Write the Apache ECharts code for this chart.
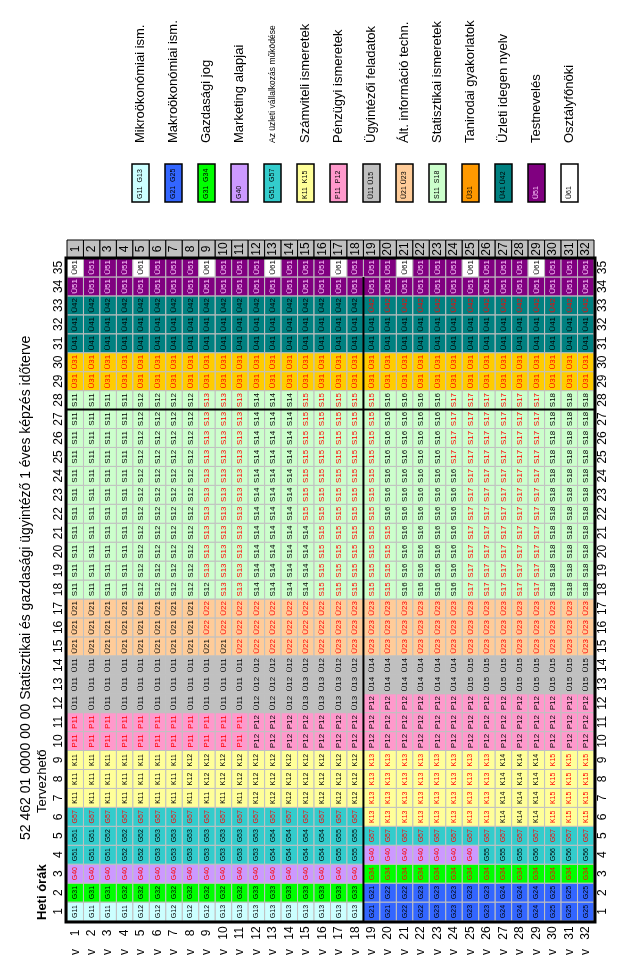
<!DOCTYPE html>
<html><head><meta charset="utf-8">
<script src="https://cdn.jsdelivr.net/npm/echarts@6/dist/echarts.min.js"></script>
<style>html,body{margin:0;padding:0;background:#fff}#c{width:621px;height:968px}</style>
</head><body><div id="c"></div>
<script>
const weeks = ['1','2','3','4','5','6','7','8','9','10','11','12','13','14','15','16','17','18','19','20','21','22','23','24','25','26','27','28','29','30','31','32'];
const hours = ['1','2','3','4','5','6','7','8','9','10','11','12','13','14','15','16','17','18','19','20','21','22','23','24','25','26','27','28','29','30','31','32','33','34','35'];
const weekMark = ['v','v','v','v','v','v','v','v','v','v','v','v','v','v','v','v','v','v','v','v','v','v','v','v','v','v','v','v','v','v','v','v'];

const legendCodes = ['G11  G13','G21  G25','G31  G34','G40','G51  G57','K11  K15','P11  P12','Ü11 Ü15','Ü21 Ü23','S11  S18','Ü31','Ü41 Ü42','Ü51','Ü61'];
const legendNames = ['Mikroökonómiai ism.','Makroökonómiai ism.','Gazdasági jog','Marketing alapjai','Az üzleti vállalkozás működése','Számviteli ismeretek','Pénzügyi ismeretek','Ügyintézői feladatok','Ált. információ techn.','Statisztikai ismeretek','Tanirodai gyakorlatok','Üzleti idegen nyelv','Testnevelés','Osztályfőnöki'];

// timetable: one array per weekly hour (1 = bottom), 32 weeks each
const hour01 = 'G11 G11 G11 G11 G12 G12 G12 G12 G12 G13 G13 G13 G13 G13 G13 G13 G13 G13 G21 G21 G22 G22 G23 G23 G23 G23 G24 G24 G24 G25 G25 G25'.split(' ');
const hour02 = 'G31 G31 G31 G32 G32 G32 G32 G32 G32 G32 G32 G33 G33 G33 G33 G33 G33 G33 G21 G22 G22 G23 G23 G23 G23 G23 G24 G24 G24 G25 G25 G25'.split(' ');
const hour03 = 'G40 G40 G40 G40 G40 G40 G40 G40 G40 G40 G40 G40 G40 G40 G40 G40 G40 G40 G34 G34 G34 G34 G34 G34 G34 G34 G34 G34 G34 G34 G34 G34'.split(' ');
const hour04 = 'G51 G51 G51 G52 G52 G53 G53 G53 G53 G53 G53 G53 G54 G54 G54 G54 G55 G55 G40 G40 G40 G40 G40 G40 G40 G55 G55 G55 G56 G56 G56 G56'.split(' ');
const hour05 = 'G51 G51 G52 G52 G52 G53 G53 G53 G53 G53 G53 G53 G54 G54 G54 G54 G55 G55 G57 G57 G57 G57 G57 G57 G57 G57 G57 G57 G57 G57 G57 G57'.split(' ');
const hour06 = 'G57 G57 G57 G57 G57 G57 G57 G57 G57 G57 G57 G57 G57 G57 G57 G57 G57 G57 K13 K13 K13 K13 K13 K13 K13 K13 K14 K14 K14 K15 K15 K15'.split(' ');
const hour07 = 'K11 K11 K11 K11 K11 K11 K11 K11 K11 K11 K11 K12 K12 K12 K12 K12 K12 K12 K13 K13 K13 K13 K13 K13 K13 K13 K14 K14 K14 K15 K15 K15'.split(' ');
const hour08 = 'K11 K11 K11 K11 K11 K11 K11 K12 K12 K12 K12 K12 K12 K12 K12 K12 K12 K12 K13 K13 K13 K13 K13 K13 K13 K13 K14 K14 K14 K15 K15 K15'.split(' ');
const hour09 = 'K11 K11 K11 K11 K11 K11 K11 K12 K12 K12 K12 K12 K12 K12 K12 K12 K12 K12 K13 K13 K13 K13 K13 K13 K13 K13 K14 K14 K14 K15 K15 K15'.split(' ');
const hour10 = 'P11 P11 P11 P11 P11 P11 P11 P11 P11 P11 P11 P12 P12 P12 P12 P12 P12 P12 P12 P12 P12 P12 P12 P12 P12 P12 P12 P12 P12 P12 P12 P12'.split(' ');
const hour11 = 'P11 P11 P11 P11 P11 P11 P11 P11 P11 P11 P11 P12 P12 P12 P12 P12 P12 P12 P12 P12 P12 P12 P12 P12 P12 P12 P12 P12 P12 P12 P12 P12'.split(' ');
const hour12 = 'Ü11 Ü11 Ü11 Ü11 Ü11 Ü11 Ü11 Ü11 Ü11 Ü11 Ü11 Ü12 Ü12 Ü12 Ü13 Ü13 Ü13 Ü13 P12 P12 P12 P12 P12 P12 P12 P12 P12 P12 P12 P12 P12 P12'.split(' ');
const hour13 = 'Ü11 Ü11 Ü11 Ü11 Ü11 Ü11 Ü11 Ü11 Ü11 Ü11 Ü11 Ü12 Ü12 Ü12 Ü13 Ü13 Ü13 Ü13 Ü14 Ü14 Ü14 Ü14 Ü14 Ü14 Ü15 Ü15 Ü15 Ü15 Ü15 Ü15 Ü15 Ü15'.split(' ');
const hour14 = 'Ü11 Ü11 Ü11 Ü11 Ü11 Ü11 Ü11 Ü11 Ü11 Ü11 Ü11 Ü12 Ü12 Ü12 Ü12 Ü12 Ü12 Ü12 Ü14 Ü14 Ü14 Ü14 Ü14 Ü14 Ü15 Ü15 Ü15 Ü15 Ü15 Ü15 Ü15 Ü15'.split(' ');
const hour15 = 'Ü21 Ü21 Ü21 Ü21 Ü21 Ü21 Ü21 Ü21 Ü21 Ü21 Ü22 Ü22 Ü22 Ü22 Ü22 Ü22 Ü23 Ü23 Ü23 Ü23 Ü23 Ü23 Ü23 Ü23 Ü23 Ü23 Ü23 Ü23 Ü23 Ü23 Ü23 Ü23'.split(' ');
const hour16 = 'Ü21 Ü21 Ü21 Ü21 Ü21 Ü21 Ü21 Ü21 Ü22 Ü22 Ü22 Ü22 Ü22 Ü22 Ü22 Ü22 Ü23 Ü23 Ü23 Ü23 Ü23 Ü23 Ü23 Ü23 Ü23 Ü23 Ü23 Ü23 Ü23 Ü23 Ü23 Ü23'.split(' ');
const hour17 = 'Ü21 Ü21 Ü21 Ü21 Ü21 Ü21 Ü21 Ü21 Ü22 Ü22 Ü22 Ü22 Ü22 Ü22 Ü22 Ü22 Ü22 Ü23 Ü23 Ü23 Ü23 Ü23 Ü23 Ü23 Ü23 Ü23 Ü23 Ü23 Ü23 Ü23 Ü23 Ü23'.split(' ');
const hour18 = 'S11 S11 S11 S11 S12 S12 S12 S12 S12 S13 S13 S14 S14 S14 S14 S15 S15 S15 S15 S15 S16 S16 S16 S16 S17 S17 S17 S17 S17 S18 S18 S18'.split(' ');
const hour19 = 'S11 S11 S11 S11 S12 S12 S12 S12 S13 S13 S13 S14 S14 S14 S14 S15 S15 S15 S15 S15 S16 S16 S16 S16 S17 S17 S17 S17 S17 S18 S18 S18'.split(' ');
const hour20 = 'S11 S11 S11 S11 S12 S12 S12 S12 S13 S13 S13 S14 S14 S14 S14 S15 S15 S15 S15 S15 S16 S16 S16 S16 S17 S17 S17 S17 S17 S18 S18 S18'.split(' ');
const hour21 = 'S11 S11 S11 S11 S12 S12 S12 S12 S13 S13 S13 S14 S14 S14 S14 S15 S15 S15 S15 S15 S16 S16 S16 S16 S17 S17 S17 S17 S17 S18 S18 S18'.split(' ');
const hour22 = 'S11 S11 S11 S11 S12 S12 S12 S12 S13 S13 S13 S14 S14 S14 S15 S15 S15 S15 S15 S16 S16 S16 S16 S16 S17 S17 S17 S17 S17 S18 S18 S18'.split(' ');
const hour23 = 'S11 S11 S11 S11 S12 S12 S12 S12 S13 S13 S13 S14 S14 S14 S15 S15 S15 S15 S15 S16 S16 S16 S16 S16 S17 S17 S17 S17 S17 S18 S18 S18'.split(' ');
const hour24 = 'S11 S11 S11 S11 S12 S12 S12 S12 S13 S13 S13 S14 S14 S14 S15 S15 S15 S15 S15 S16 S16 S16 S16 S16 S17 S17 S17 S17 S17 S18 S18 S18'.split(' ');
const hour25 = 'S11 S11 S11 S11 S12 S12 S12 S12 S13 S13 S13 S14 S14 S14 S15 S15 S15 S15 S15 S16 S16 S16 S16 S17 S17 S17 S17 S17 S17 S18 S18 S18'.split(' ');
const hour26 = 'S11 S11 S11 S11 S12 S12 S12 S12 S13 S13 S13 S14 S14 S14 S15 S15 S15 S15 S15 S16 S16 S16 S16 S17 S17 S17 S17 S17 S17 S18 S18 S18'.split(' ');
const hour27 = 'S11 S11 S11 S11 S12 S12 S12 S12 S13 S13 S13 S14 S14 S14 S15 S15 S15 S15 S15 S16 S16 S16 S16 S17 S17 S17 S17 S17 S17 S18 S18 S18'.split(' ');
const hour28 = 'S11 S11 S11 S11 S12 S12 S12 S12 S13 S13 S13 S14 S14 S14 S15 S15 S15 S15 S15 S16 S16 S16 S16 S17 S17 S17 S17 S17 S17 S18 S18 S18'.split(' ');
const hour29 = 'Ü31 Ü31 Ü31 Ü31 Ü31 Ü31 Ü31 Ü31 Ü31 Ü31 Ü31 Ü31 Ü31 Ü31 Ü31 Ü31 Ü31 Ü31 Ü31 Ü31 Ü31 Ü31 Ü31 Ü31 Ü31 Ü31 Ü31 Ü31 Ü31 Ü31 Ü31 Ü31'.split(' ');
const hour30 = 'Ü31 Ü31 Ü31 Ü31 Ü31 Ü31 Ü31 Ü31 Ü31 Ü31 Ü31 Ü31 Ü31 Ü31 Ü31 Ü31 Ü31 Ü31 Ü31 Ü31 Ü31 Ü31 Ü31 Ü31 Ü31 Ü31 Ü31 Ü31 Ü31 Ü31 Ü31 Ü31'.split(' ');
const hour31 = 'Ü41 Ü41 Ü41 Ü41 Ü41 Ü41 Ü41 Ü41 Ü41 Ü41 Ü41 Ü41 Ü41 Ü41 Ü41 Ü41 Ü41 Ü41 Ü41 Ü41 Ü41 Ü41 Ü41 Ü41 Ü41 Ü41 Ü41 Ü41 Ü41 Ü41 Ü41 Ü41'.split(' ');
const hour32 = 'Ü41 Ü41 Ü41 Ü41 Ü41 Ü41 Ü41 Ü41 Ü41 Ü41 Ü41 Ü41 Ü41 Ü41 Ü41 Ü41 Ü41 Ü41 Ü41 Ü41 Ü41 Ü41 Ü41 Ü41 Ü41 Ü41 Ü41 Ü41 Ü41 Ü41 Ü41 Ü41'.split(' ');
const hour33 = 'Ü42 Ü42 Ü42 Ü42 Ü42 Ü42 Ü42 Ü42 Ü42 Ü42 Ü42 Ü42 Ü42 Ü42 Ü42 Ü42 Ü42 Ü42 Ü42 Ü42 Ü42 Ü42 Ü42 Ü42 Ü42 Ü42 Ü42 Ü42 Ü42 Ü42 Ü42 Ü42'.split(' ');
const hour34 = 'Ü51 Ü51 Ü51 Ü51 Ü51 Ü51 Ü51 Ü51 Ü51 Ü51 Ü51 Ü51 Ü51 Ü51 Ü51 Ü51 Ü51 Ü51 Ü51 Ü51 Ü51 Ü51 Ü51 Ü51 Ü51 Ü51 Ü51 Ü51 Ü51 Ü51 Ü51 Ü51'.split(' ');
const hour35 = 'Ü61 Ü51 Ü51 Ü51 Ü61 Ü51 Ü51 Ü51 Ü61 Ü51 Ü51 Ü51 Ü61 Ü51 Ü51 Ü51 Ü61 Ü51 Ü51 Ü51 Ü61 Ü51 Ü51 Ü51 Ü61 Ü51 Ü51 Ü51 Ü61 Ü51 Ü51 Ü51'.split(' ');

const splitAfterWeek = '18';
const splitAfterHour = '27';
const titleText = '52 462 01 0000 00 00 Statisztikai és gazdasági ügyintéző 1 éves képzés időterve';

const schedule = [hour01,hour02,hour03,hour04,hour05,hour06,hour07,hour08,hour09,hour10,hour11,hour12,hour13,hour14,hour15,hour16,hour17,hour18,hour19,hour20,hour21,hour22,hour23,hour24,hour25,hour26,hour27,hour28,hour29,hour30,hour31,hour32,hour33,hour34,hour35];

const FONT = '"Liberation Sans", Arial, sans-serif';
const fillMap = {G1:'#ccffff',G2:'#3366ff',G3:'#00ff00',G4:'#cc99ff',G5:'#33cccc',K1:'#ffff99',P1:'#ff99cc','Ü1':'#c0c0c0','Ü2':'#ffcc99',S1:'#ccffcc','Ü3':'#ffcc00','Ü4':'#008080','Ü5':'#800080','Ü6':'#ffffff'};
const legendFill = {G1:'#ccffff',G2:'#3366ff',G3:'#00ff00',G4:'#cc99ff',G5:'#33cccc',K1:'#ffff99',P1:'#ff99cc','Ü1':'#c0c0c0','Ü2':'#ffcc99',S1:'#ccffcc','Ü3':'#ff9900','Ü4':'#008080','Ü5':'#800080','Ü6':'#ffffff'};
const redCodes = new Set(['G40','G57','G34','K13','K15','P11','Ü22','Ü23','Ü31','S13','S15','S17']);
function fillOf(code){ return fillMap[code.slice(0,2)] || '#fff'; }
function textOf(code, week){
  if (code === 'Ü51') return '#ffccff';
  if (redCodes.has(code)) return '#ff0000';
  if (code === 'Ü42' && week > +splitAfterWeek) return '#ff0000';
  return '#000';
}

const cellData = [], cellCodes = [];
schedule.forEach((row, h) => row.forEach((code, w) => { cellData.push([w, h]); cellCodes.push(code); }));

const chart = echarts.init(document.getElementById('c'), null, {renderer:'canvas'});
const hidden = {show:false};
chart.setOption({
  animation:false,
  backgroundColor:'#fff',
  grid:[
    {left:67, right:27, top:258, bottom:47},
    {left:67, right:27, top:240, height:18},
    {left:124, width:462, top:164, height:38}
  ],
  xAxis:[
    {gridIndex:0, type:'category', data:weeks, position:'bottom', axisLine:hidden, axisTick:hidden, splitLine:hidden,
     axisLabel:{rotate:90, align:'center', verticalAlign:'middle', margin:12, fontSize:12, color:'#000', fontFamily:FONT, interval:0}},
    {gridIndex:0, type:'category', data:weekMark, position:'bottom', axisLine:hidden, axisTick:hidden, splitLine:hidden,
     axisLabel:{rotate:90, align:'center', verticalAlign:'middle', margin:31, fontSize:12, color:'#000', fontFamily:FONT, interval:0}},
    {gridIndex:1, type:'category', data:weeks, show:false},
    {gridIndex:2, type:'category', data:legendCodes, show:false}
  ],
  yAxis:[
    {gridIndex:0, type:'category', data:hours, position:'left', axisLine:hidden, axisTick:hidden, splitLine:hidden,
     axisLabel:{rotate:90, align:'center', verticalAlign:'middle', margin:8, fontSize:12, color:'#000', fontFamily:FONT, interval:0}},
    {gridIndex:0, type:'category', data:hours, position:'right', axisLine:hidden, axisTick:hidden, splitLine:hidden,
     axisLabel:{rotate:90, align:'center', verticalAlign:'middle', margin:9, fontSize:12, color:'#000', fontFamily:FONT, interval:0}},
    {gridIndex:1, type:'category', data:['hét'], show:false},
    {gridIndex:2, type:'category', data:['jel'], show:false}
  ],
  graphic:[
    {type:'text', x:26, y:840, rotation:Math.PI/2, style:{text:titleText, font:'14px '+FONT, fill:'#000', align:'left', verticalAlign:'middle'}},
    {type:'text', x:42, y:920, rotation:Math.PI/2, style:{text:'Heti órák', font:'bold 13px '+FONT, fill:'#000', align:'left', verticalAlign:'middle'}},
    {type:'text', x:42, y:813, rotation:Math.PI/2, style:{text:'Tervezhető', font:'13px '+FONT, fill:'#000', align:'left', verticalAlign:'middle'}}
  ],
  series:[
    {type:'custom', xAxisIndex:0, yAxisIndex:0, data:cellData, clip:false, z:2,
     renderItem(params, api){
       const w = api.value(0), h = api.value(1);
       const code = cellCodes[params.dataIndex];
       const c = api.coord([w, h]); const s = api.size([1, 1]);
       const small = code[0] === 'G' || code[0] === 'K';
       return {type:'group', children:[
         {type:'rect', shape:{x:c[0]-s[0]/2, y:c[1]-s[1]/2, width:s[0], height:s[1]},
          style:{fill:fillOf(code), stroke:'#c0c0c0', lineWidth:1}},
         {type:'text', x:c[0], y:c[1], rotation:Math.PI/2,
          style:{text:code, fill:textOf(code, w+1), font:(small?'7px ':'8px ')+FONT, align:'center', verticalAlign:'middle'}}
       ]};
     }},
    {type:'custom', xAxisIndex:0, yAxisIndex:0, data:[[0,0]], clip:false, z:5, silent:true,
     renderItem(params, api){
       const s = api.size([1,1]);
       const p0 = api.coord([0, 0]);
       const p1 = api.coord([weeks.length-1, hours.length-1]);
       const left = p0[0]-s[0]/2, right = p1[0]+s[0]/2, bottom = p0[1]+s[1]/2, top = p1[1]-s[1]/2;
       const hy = api.coord([0, hours.indexOf(splitAfterHour)])[1] - s[1]/2;
       const vx = api.coord([weeks.indexOf(splitAfterWeek), 0])[0] + s[0]/2;
       const vTop = api.coord([0, hours.length-2])[1] - s[1]/2;
       return {type:'group', children:[
         {type:'line', shape:{x1:left, y1:hy, x2:right, y2:hy}, style:{stroke:'#000', lineWidth:2}},
         {type:'line', shape:{x1:vx, y1:vTop, x2:vx, y2:bottom}, style:{stroke:'#000', lineWidth:2}},
         {type:'rect', shape:{x:left-1, y:top, width:right-left+2, height:bottom-top+1}, style:{fill:null, stroke:'#000', lineWidth:3}}
       ]};
     }},
    {type:'custom', xAxisIndex:2, yAxisIndex:2, data:weeks.map((w,i)=>[i,0]), clip:false, z:3,
     renderItem(params, api){
       const i = api.value(0);
       const c = api.coord([i, 0]); const s = api.size([1, 1]);
       return {type:'group', children:[
         {type:'rect', shape:{x:c[0]-s[0]/2, y:c[1]-s[1]/2, width:s[0], height:s[1]}, style:{fill:'#c0c0c0', stroke:'#000', lineWidth:1}},
         {type:'text', x:c[0], y:c[1], rotation:Math.PI/2, style:{text:weeks[i], fill:'#000', font:'12px '+FONT, align:'center', verticalAlign:'middle'}}
       ]};
     }},
    {type:'custom', xAxisIndex:3, yAxisIndex:3, data:legendCodes.map((k,i)=>[i,0]), clip:false, z:3,
     renderItem(params, api){
       const i = api.value(0);
       const c = api.coord([i, 0]); const s = api.size([1, 1]);
       const code = legendCodes[i];
       const top = c[1]-s[1]/2, bot = c[1]+s[1]/2;
       const nm = legendNames[i];
       return {type:'group', children:[
         {type:'rect', shape:{x:c[0]-8.5, y:top, width:17, height:s[1]}, style:{fill:legendFill[code.slice(0,2)], stroke:'#000', lineWidth:1.5}},
         {type:'text', x:c[0], y:bot-3, rotation:Math.PI/2, style:{text:code, fill:code==='Ü51'?'#ffccff':'#000', font:'7px '+FONT, align:'left', verticalAlign:'middle'}},
         {type:'text', x:c[0], y:top-21, rotation:Math.PI/2, style:{text:nm, fill:'#000', font:(nm.length>25?'8.5px ':'13px ')+FONT, align:'left', verticalAlign:'middle'}}
       ]};
     }}
  ]
});
</script></body></html>
